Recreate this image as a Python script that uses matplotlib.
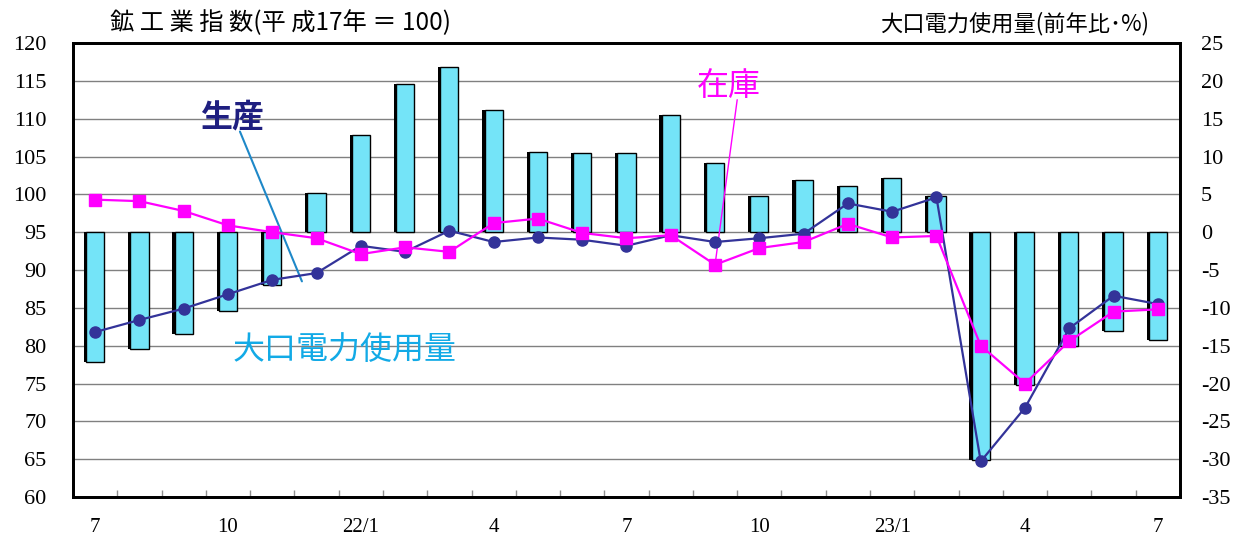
import numpy as np
import matplotlib
matplotlib.use('Agg')
import matplotlib.pyplot as plt

plt.rcParams['font.family'] = ['Noto Sans CJK JP', 'DejaVu Sans']
plt.rcParams['axes.unicode_minus'] = False

# --- monthly data, 2009/7 .. 2011/7 ---
months = np.arange(25)
tick_pos = [0, 3, 6, 9, 12, 15, 18, 21, 24]
tick_labels = ['7', '10', '22/1', '4', '7', '10', '23/1', '4', '7']

# large-lot power use, % change y/y (right axis)
power = [-17.1, -15.5, -13.5, -10.4, -7.0, 5.2, 12.8, 19.6, 21.8, 16.1,
         10.6, 10.5, 10.5, 15.5, 9.2, 4.8, 6.9, 6.1, 7.1, 4.8,
         -30.1, -20.2, -15.1, -13.1, -14.2]
# production index (left axis, 2005=100)
production = [81.8, 83.4, 84.9, 86.8, 88.7, 89.6, 93.2, 92.4, 95.2, 93.7,
              94.3, 94.0, 93.2, 94.6, 93.7, 94.2, 94.8, 98.8, 97.7, 99.6,
              64.7, 71.8, 82.3, 86.6, 85.5]
# inventory index (left axis)
inventory = [99.3, 99.1, 97.8, 95.9, 95.0, 94.2, 92.1, 93.0, 92.4, 96.2,
             96.8, 94.9, 94.2, 94.6, 90.7, 92.9, 93.7, 96.1, 94.3, 94.5,
             80.0, 75.0, 80.6, 84.5, 84.8]

serif = 'Liberation Serif'

fig = plt.figure(figsize=(12.48, 5.41), dpi=100)
ax_bar = fig.add_axes([0.0585, 0.0813, 0.887, 0.8392])
ax = ax_bar.twinx()

# bars with a dark drop shadow on the left
ax_bar.bar(months - 0.05, power, width=0.41, color='black', zorder=2)
ax_bar.bar(months, power, width=0.41, color='#74E4F8', edgecolor='black',
           linewidth=1.0, zorder=3)
ax_bar.set_ylim(-35, 25)
ax_bar.set_yticks(np.arange(-35, 26, 5))
ax_bar.yaxis.tick_right()
ax_bar.tick_params(axis='y', length=0, pad=15, labelsize=16,
                   labelfontfamily=serif)
ax_bar.yaxis.grid(True, color='#808080', linewidth=1.0)
ax_bar.set_axisbelow(True)

ax_bar.set_xlim(-0.5, 24.5)
ax_bar.set_xticks(tick_pos)
ax_bar.set_xticklabels(tick_labels, fontsize=15, family=serif)
ax_bar.tick_params(axis='x', length=0, pad=15)
ax_bar.set_xticks(np.arange(0.5, 24.5, 1), minor=True)
ax_bar.tick_params(axis='x', which='minor', direction='in', length=5,
                   color='#909090', width=1)

# index lines
ax.plot(months, production, color='#333399', linewidth=1.6, marker='o',
        markersize=8, zorder=4)
ax.plot(months, inventory, color='#FF00FF', linewidth=1.6, marker='s',
        markersize=8, zorder=5)
ax.set_ylim(60, 120)
ax.set_yticks(np.arange(60, 121, 5))
ax.yaxis.tick_left()
ax.tick_params(axis='y', length=0, pad=19, labelsize=16,
               labelfontfamily=serif)

for a in (ax, ax_bar):
    for s in a.spines.values():
        s.set_color('black')
        s.set_linewidth(2)

# series labels with leader lines
ax.text(2.37, 110.1, '生産', fontsize=23, fontweight='bold',
        color='#1F1F80', ha='left', va='center')
ax.annotate('', xy=(4.67, 88.5), xytext=(3.27, 108.3),
            arrowprops=dict(arrowstyle='-', color='#1E88C8', lw=1.5,
                            shrinkA=0, shrinkB=0))
ax.text(13.59, 114.3, '在庫', fontsize=23, color='#FF00FF',
        ha='left', va='center')
ax.annotate('', xy=(14, inventory[14]), xytext=(14.5, 112.5),
            arrowprops=dict(arrowstyle='-', color='#FF00FF', lw=1.0,
                            shrinkA=0, shrinkB=0))
ax.text(3.1, 79.4, '大口電力使用量', fontsize=23, color='#12AAE6',
        ha='left', va='center')

# axis titles
fig.text(0.088, 0.957, '鉱 工 業 指 数(平 成17年 ＝ 100)', fontsize=17.5,
         ha='left', va='center')
fig.text(0.921, 0.957, '大口電力使用量(前年比･%)', fontsize=16,
         ha='right', va='center')

fig.savefig('out.png', dpi=100)
